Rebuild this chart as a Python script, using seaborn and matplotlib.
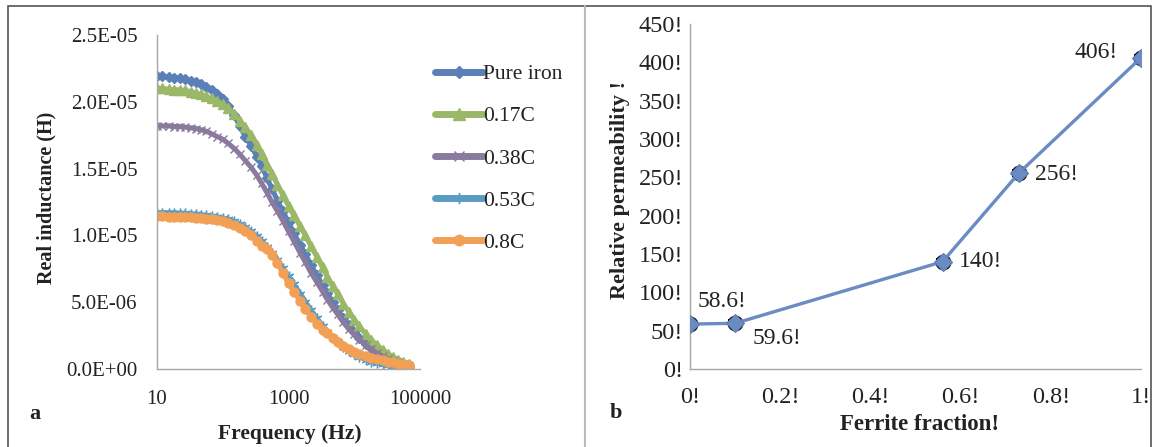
import numpy as np
import pandas as pd
import seaborn as sns
import matplotlib.pyplot as plt
from matplotlib.lines import Line2D
from matplotlib.patches import Rectangle

# frequency sweep (Hz)
freq = [10, 12, 15, 18, 22, 27, 33, 39, 47, 56, 68, 82,
        100, 120, 150, 180, 220, 270, 330, 390, 470, 560, 680, 820,
        1000, 1200, 1500, 1800, 2200, 2700, 3300, 3900, 4700, 5600, 6800, 8200,
        10000, 12000, 15000, 18000, 22000, 27000, 33000, 39000, 47000, 56000, 68000]

# real inductance in micro-henry
pure_iron = [21.9, 21.9, 21.85, 21.8, 21.75, 21.7, 21.55, 21.45, 21.3, 21.1, 20.9, 20.6,
             20.2, 19.7, 19.0, 18.2, 17.4, 16.7, 15.9, 15.2, 14.3, 13.5, 12.6, 11.8,
             11.0, 10.2, 9.3, 8.6, 7.8, 7.0, 6.3, 5.7, 5.0, 4.4, 3.8, 3.3,
             2.8, 2.35, 1.9, 1.55, 1.25, 1.0, 0.75, 0.6, 0.45, 0.35, 0.25]
c017 = [21.0, 21.0, 20.95, 20.9, 20.9, 20.85, 20.75, 20.65, 20.55, 20.4, 20.25, 20.05,
        19.8, 19.5, 19.1, 18.6, 18.1, 17.5, 16.8, 16.1, 15.3, 14.6, 13.8, 13.0,
        12.2, 11.5, 10.7, 10.0, 9.2, 8.4, 7.6, 6.9, 6.2, 5.6, 4.9, 4.3,
        3.7, 3.2, 2.6, 2.2, 1.8, 1.45, 1.15, 0.9, 0.7, 0.55, 0.4]
c038 = [18.2, 18.2, 18.2, 18.15, 18.15, 18.1, 18.05, 18.0, 17.9, 17.8, 17.6, 17.4,
        17.2, 16.9, 16.5, 16.1, 15.6, 15.1, 14.5, 13.9, 13.2, 12.5, 11.8, 11.1,
        10.3, 9.6, 8.7, 8.0, 7.2, 6.5, 5.8, 5.2, 4.6, 4.1, 3.5, 3.0,
        2.6, 2.2, 1.8, 1.5, 1.2, 0.95, 0.75, 0.6, 0.45, 0.35, 0.25]
c053 = [11.7, 11.7, 11.7, 11.7, 11.65, 11.65, 11.6, 11.6, 11.55, 11.5, 11.45, 11.4,
        11.3, 11.2, 11.05, 10.85, 10.6, 10.3, 9.95, 9.6, 9.15, 8.7, 8.15, 7.55,
        6.95, 6.35, 5.65, 5.05, 4.4, 3.8, 3.25, 2.8, 2.35, 2.0, 1.65, 1.35,
        1.1, 0.9, 0.7, 0.55, 0.45, 0.35, 0.28, 0.22, 0.18, 0.15, 0.12]
c080 = [11.45, 11.45, 11.4, 11.4, 11.4, 11.35, 11.35, 11.3, 11.3, 11.25, 11.2, 11.15,
        11.05, 10.95, 10.8, 10.55, 10.3, 10.0, 9.6, 9.2, 9.0, 8.5, 7.9, 7.2,
        6.4, 5.8, 5.1, 4.5, 3.9, 3.4, 2.9, 2.7, 2.35, 2.05, 1.75, 1.5,
        1.3, 1.1, 0.95, 0.85, 0.75, 0.65, 0.55, 0.5, 0.4, 0.35, 0.3]

series_names = ['Pure iron', '0.17C', '0.38C', '0.53C', '0.8C']
series_vals = [pure_iron, c017, c038, c053, c080]
series_colors = ['#5B80B8', '#9BB868', '#8A7A9E', '#5B9CC4', '#F3A057']
series_markers = ['D', '^', 'x', (6, 2, 0), 'o']
series_msize = [5.5, 7, 6, 7, 6.5]

left_yticks = [0, 5e-6, 1e-5, 1.5e-5, 2e-5, 2.5e-5]
left_yticklabels = ['0.0E+00', '5.0E-06', '1.0E-05', '1.5E-05', '2.0E-05', '2.5E-05']

# panel b
ferrite = [0.0, 0.10, 0.56, 0.73, 1.0]
perm = [58.6, 59.6, 140, 256, 406]
perm_err = [4, 4, 4, 4, 4]
perm_labels = ['58.6!', '59.6!', '140!', '256!', '406!']
right_yticks = [0, 50, 100, 150, 200, 250, 300, 350, 400, 450]
right_yticklabels = ['0!', '50!', '100!', '150!', '200!', '250!', '300!', '350!', '400!', '450!']
right_xticks = [0, 0.2, 0.4, 0.6, 0.8, 1.0]
right_xticklabels = ['0!', '0.2!', '0.4!', '0.6!', '0.8!', '1!']

sns.set_style('white')
plt.rcParams['font.family'] = ['Liberation Serif', 'DejaVu Serif']
txt = '#222222'
spine_c = '#A8A8A8'

W, H = 1154, 447
fig = plt.figure(figsize=(W / 100, H / 100), dpi=100)

def fx(px):
    return px / W

def fy(py):
    return 1 - py / H

# ---- panel a
df = pd.DataFrame({'freq': freq * len(series_names),
                   'L': np.concatenate(series_vals) * 1e-6,
                   'sample': np.repeat(series_names, len(freq))})

ax1 = fig.add_axes([fx(157), fy(369), fx(420) - fx(157), fy(35) - fy(369)])
handles = []
for name, col, mk, ms in zip(series_names, series_colors, series_markers, series_msize):
    sub = df[df['sample'] == name]
    sns.lineplot(data=sub, x='freq', y='L', ax=ax1, color=col, lw=3.6,
                 marker=mk, markersize=ms, markeredgecolor=col,
                 markerfacecolor=col, markeredgewidth=1.0, legend=False)
    handles.append(Line2D([], [], color=col, lw=5, marker=mk, markersize=ms + 1,
                          markeredgecolor=col, markerfacecolor=col))

ax1.set_xscale('log')
ax1.set_xlim(10, 100000)
ax1.set_ylim(0, 2.5e-5)
ax1.set_xticks([10, 1000, 100000])
ax1.set_xticklabels(['10', '1000', '100000'])
ax1.minorticks_off()
ax1.set_yticks(left_yticks)
ax1.set_yticklabels(left_yticklabels)
ax1.tick_params(length=0, labelsize=15, colors=txt, pad=14)
ax1.tick_params(axis='x', pad=15)
ax1.set_xlabel('')
ax1.set_ylabel('')
for s in ['top', 'right']:
    ax1.spines[s].set_visible(False)
for s in ['left', 'bottom']:
    ax1.spines[s].set_color(spine_c)
    ax1.spines[s].set_linewidth(1.0)

fig.legend(handles, series_names, loc='upper left',
           bbox_to_anchor=(fx(416), fy(45)), frameon=False,
           handlelength=2.2, handletextpad=0.0, labelspacing=1.02,
           prop={'family': 'Liberation Serif', 'size': 15.5}, labelcolor=txt)

fig.text(fx(46), fy(198), 'Real inductance (H)', rotation=90, ha='center', va='center',
         fontsize=14.5, fontweight='bold', color=txt)
fig.text(fx(290), fy(434), 'Frequency (Hz)', ha='center', va='center',
         fontsize=15.5, fontweight='bold', color=txt)
fig.text(fx(35), fy(414), 'a', ha='center', va='center', fontsize=16,
         fontweight='bold', color=txt)

# ---- panel b
dfb = pd.DataFrame({'ferrite': ferrite, 'perm': perm})
ax2 = fig.add_axes([fx(690), fy(369), fx(1141) - fx(690), fy(24) - fy(369)])
ax2.errorbar(ferrite, perm, yerr=perm_err, fmt='o', ms=10, mfc='white', mec='black',
             mew=1.4, ecolor='black', elinewidth=1.2, capsize=5, capthick=2.8,
             zorder=2)
sns.lineplot(data=dfb, x='ferrite', y='perm', ax=ax2, color='#6A8CC2', lw=2.4,
             marker='D', markersize=9, markerfacecolor='#6A8CC2',
             markeredgecolor='#5A7CB2', markeredgewidth=0.8, zorder=3)
ax2.set_xlim(0, 1)
ax2.set_ylim(0, 450)
ax2.set_xticks(right_xticks)
ax2.set_xticklabels(right_xticklabels)
ax2.set_yticks(right_yticks)
ax2.set_yticklabels(right_yticklabels)
ax2.tick_params(length=0, labelsize=17.5, colors=txt, pad=5)
ax2.tick_params(axis='x', pad=13)
ax2.set_xlabel('')
ax2.set_ylabel('')
for s in ['top', 'right']:
    ax2.spines[s].set_visible(False)
for s in ['left', 'bottom']:
    ax2.spines[s].set_color(spine_c)
    ax2.spines[s].set_linewidth(1.0)
    ax2.spines[s].set_zorder(0)

label_offsets = [(23, 16), (30, -11), (11.5, 0), (11, -1), (-16.5, 4)]
label_ha = ['center', 'center', 'left', 'left', 'right']
for xv, yv, lab, off, ha in zip(ferrite, perm, perm_labels, label_offsets, label_ha):
    ax2.annotate(lab, (xv, yv), xytext=off, textcoords='offset points',
                 ha=ha, va='center', fontsize=17, color=txt)

fig.text(fx(620), fy(190), 'Relative permeability !', rotation=90, ha='center',
         va='center', fontsize=16, fontweight='bold', color=txt)
fig.text(fx(920), fy(425), 'Ferrite fraction!', ha='center', va='center',
         fontsize=16.5, fontweight='bold', color=txt)
fig.text(fx(616), fy(413), 'b', ha='center', va='center', fontsize=16,
         fontweight='bold', color=txt)

# frame and divider
fig.add_artist(Rectangle((fx(8), fy(470)), fx(1151) - fx(8), fy(6) - fy(470),
                         transform=fig.transFigure, fill=False, edgecolor='#555555',
                         lw=1.2))
fig.add_artist(Line2D([fx(585), fx(585)], [fy(6), fy(447)], transform=fig.transFigure,
                      color='#BBBBBB', lw=1.5))

fig.savefig('out.png', dpi=100)
